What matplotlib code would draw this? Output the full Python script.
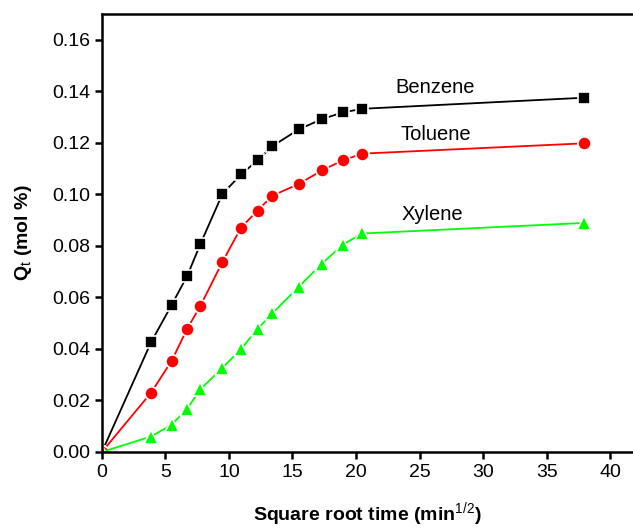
import matplotlib
matplotlib.use("Agg")
import matplotlib.pyplot as plt

plt.rcParams['font.family'] = ['Liberation Sans', 'DejaVu Sans']
plt.rcParams['mathtext.fontset'] = 'custom'
plt.rcParams['mathtext.rm'] = 'Liberation Sans'
plt.rcParams['mathtext.bf'] = 'Liberation Sans:bold'

# Square root time (min^1/2)
sqrt_time = [0, 3.87, 5.48, 6.71, 7.75, 9.49, 10.95, 12.25, 13.42, 15.49, 17.32, 18.97, 20.49, 37.95]
benzene = [0.0, 0.0426, 0.0570, 0.0683, 0.0807, 0.1002, 0.1077, 0.1132, 0.1187, 0.1252, 0.1292, 0.1318, 0.1332, 0.1375]
toluene = [0.0, 0.0230, 0.0353, 0.0478, 0.0567, 0.0738, 0.0871, 0.0937, 0.0995, 0.1040, 0.1093, 0.1132, 0.1158, 0.1198]
xylene = [0.0, 0.0060, 0.0105, 0.0168, 0.0243, 0.0327, 0.0399, 0.0478, 0.0538, 0.0641, 0.0731, 0.0805, 0.0848, 0.0889]

labels = ["Benzene", "Toluene", "Xylene"]
label_pos = [(26.2, 0.1416), (26.3, 0.1233), (26.0, 0.0922)]

fig = plt.figure(figsize=(6.33, 5.28), dpi=100)
ax = fig.add_axes([0.161, 0.144, 0.839, 0.8295])

ax.plot(sqrt_time, benzene, color='black', lw=1.3, marker='s', ms=8,
        mfc='black', mec='white', mew=1.2)
ax.plot(sqrt_time, toluene, color='#ff0000', lw=1.3, marker='o', ms=9.5,
        mfc='#ff0000', mec='white', mew=1.2)
ax.plot(sqrt_time, xylene, color='#00ff00', lw=1.3, marker='^', ms=10.5,
        mfc='#00ff00', mec='white', mew=1.2)

for lab, (tx, ty) in zip(labels, label_pos):
    ax.text(tx, ty, lab, ha='center', va='center', fontsize=14.5)

ax.set_xlim(0, 41.8)
ax.set_ylim(0, 0.17)
ax.set_xticks([0, 5, 10, 15, 20, 25, 30, 35, 40])
ax.set_yticks([0.00, 0.02, 0.04, 0.06, 0.08, 0.10, 0.12, 0.14, 0.16])
ax.set_yticklabels(["%.2f" % v for v in ax.get_yticks()])

for s in ['left', 'bottom', 'top']:
    ax.spines[s].set_linewidth(1.8)
ax.spines['right'].set_visible(False)
ax.tick_params(direction='out', length=5, width=1.8, labelsize=14, top=False, right=False)

ax.set_xlabel("Square root time (min$^{\\mathrm{1/2}}$)", fontsize=14, fontweight='bold', labelpad=14)
ax.set_ylabel("Q$_{\\mathrm{t}}$ (mol %)", fontsize=14, fontweight='bold', labelpad=13)

fig.savefig("out.png", dpi=100)
